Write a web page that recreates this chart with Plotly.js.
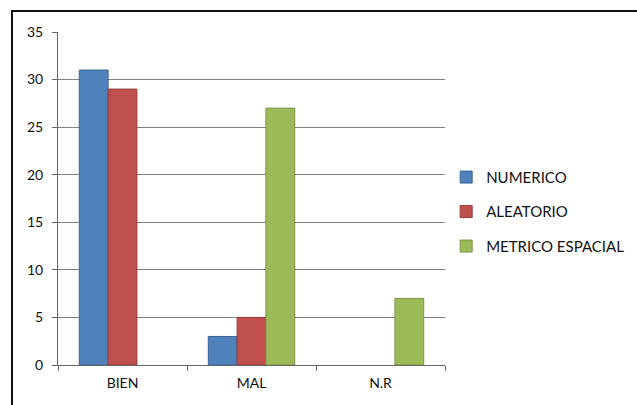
<!DOCTYPE html>
<html>
<head>
<meta charset="utf-8">
<script src="https://cdn.plot.ly/plotly-3.0.1.min.js"></script>
<style>
  html, body { margin: 0; padding: 0; background: #fff; }
  #wrap { position: relative; width: 637px; height: 405px; }
  #chart { width: 637px; height: 405px; }
  #frame {
    position: absolute; left: 11px; top: 10px; right: 0; bottom: 0;
    border-top: 2px solid #111; border-left: 2px solid #111;
    pointer-events: none;
  }
</style>
</head>
<body>
<div id="wrap">
  <div id="chart"></div>
  <div id="frame"></div>
</div>
<script>
// Results per answer category (null = no answers, no bar)
const categories = ["BIEN", "MAL", "N.R"];
const numerico = [31, 3, null];
const aleatorio = [29, 5, null];
const metricoEspacial = [null, 27, 7];
const seriesNames = ["NUMERICO", "ALEATORIO", "METRICO ESPACIAL"];
const yTicks = [0, 5, 10, 15, 20, 25, 30, 35];

const fills = ["#4F81BD", "#C0504D", "#9BBB59"];
const edges = ["#3A6494", "#963B39", "#7A9446"];
const values = [numerico, aleatorio, metricoEspacial];

const traces = values.map((v, i) => ({
  type: "bar",
  name: seriesNames[i],
  x: categories,
  y: v,
  legendgroup: "g" + i,
  marker: { color: fills[i], line: { color: edges[i], width: 1 } },
  hoverinfo: "x+y+name"
}));

const layout = {
  width: 637,
  height: 405,
  margin: { l: 58, r: 192, t: 32, b: 40, autoexpand: false },
  paper_bgcolor: "#fff",
  plot_bgcolor: "#fff",
  font: { family: "Lato, 'Open Sans', sans-serif", size: 14, color: "#111" },
  barmode: "group",
  bargap: 0.33,
  bargroupgap: 0,
  showlegend: true,
  legend: {
    x: 1.003, xanchor: "left",
    y: 0.46, yanchor: "middle",
    font: { size: 15, color: "#111" },
    tracegroupgap: 12,
    itemwidth: 30,
    bgcolor: "rgba(0,0,0,0)"
  },
  xaxis: {
    type: "category",
    showgrid: false,
    showline: true,
    linecolor: "#666",
    linewidth: 1,
    ticks: "outside",
    tickson: "boundaries",
    ticklen: 5,
    tickcolor: "#666",
    ticklabelstandoff: 5,
    zeroline: false
  },
  yaxis: {
    range: [0, 35],
    tickvals: yTicks,
    showgrid: true,
    gridcolor: "#808080",
    gridwidth: 1,
    showline: true,
    linecolor: "#666",
    linewidth: 1,
    ticks: "outside",
    ticklen: 5,
    tickcolor: "#666",
    zeroline: false,
    ticklabelstandoff: 6
  }
};

Plotly.newPlot("chart", traces, layout, { displayModeBar: false, staticPlot: true });
</script>
</body>
</html>
